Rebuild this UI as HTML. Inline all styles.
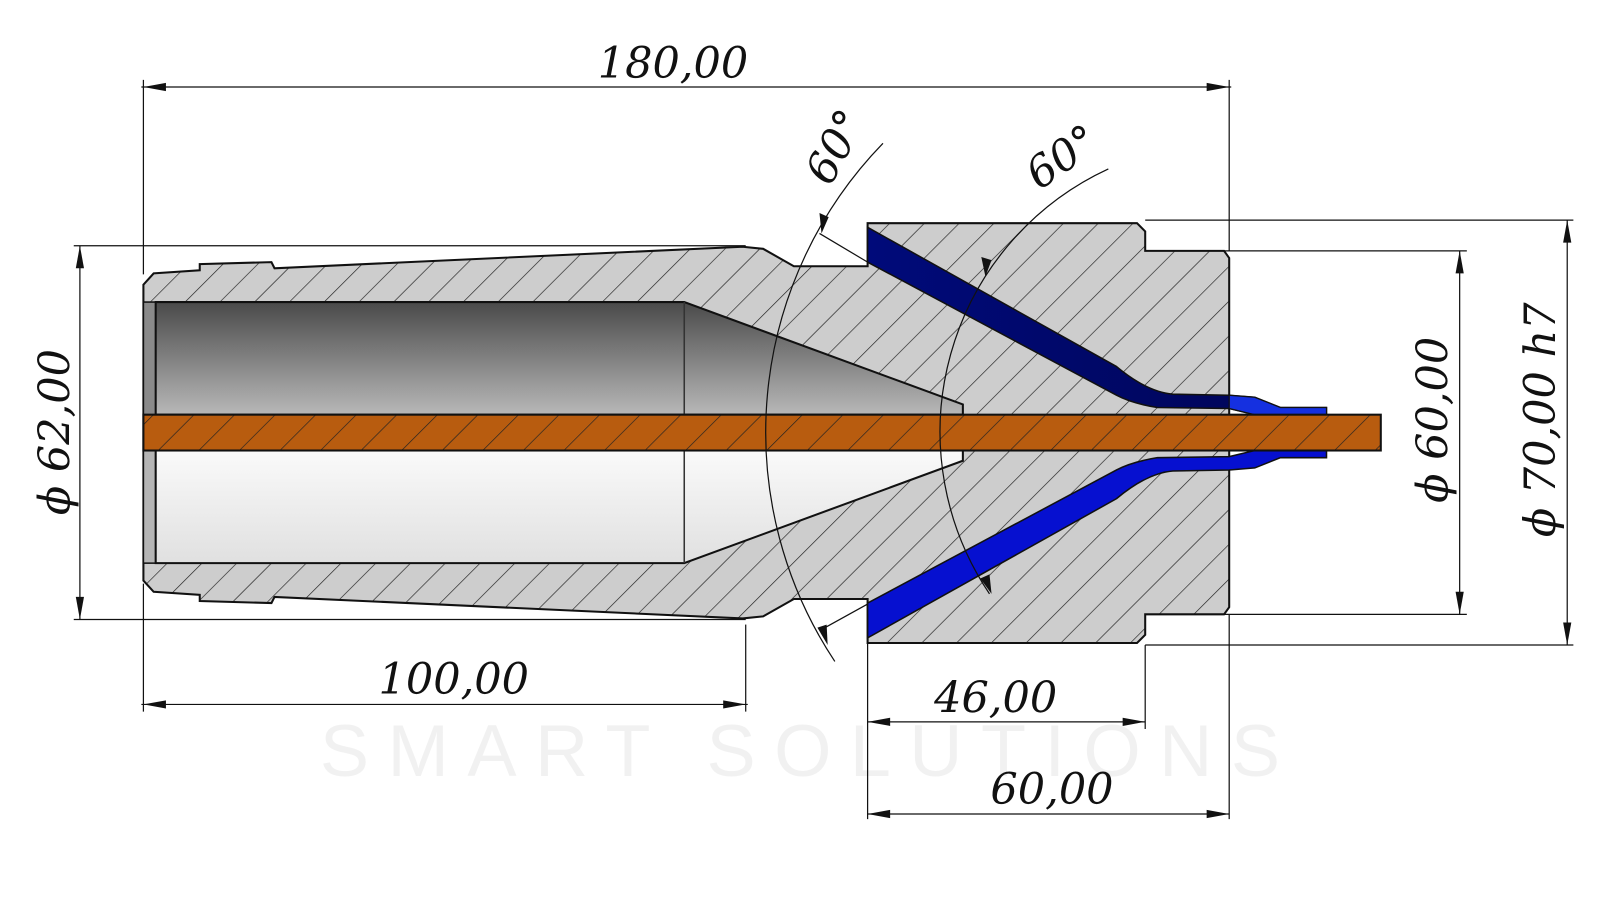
<!DOCTYPE html>
<html><head><meta charset="utf-8"><style>
html,body{margin:0;padding:0;background:#fff;}
svg{display:block;}
text{font-family:"DejaVu Serif","Liberation Serif",serif;font-style:italic;fill:#111;}
</style></head><body>
<svg width="1600" height="900" viewBox="0 0 1562 879" preserveAspectRatio="none" xmlns="http://www.w3.org/2000/svg">
<defs>
<pattern id="h" patternUnits="userSpaceOnUse" width="24" height="24" patternTransform="rotate(45)">
<rect width="24" height="24" fill="#cdcdcd"/><line x1="0" y1="0" x2="0" y2="24" stroke="#222" stroke-width="1.3"/></pattern>
<pattern id="hr" patternUnits="userSpaceOnUse" width="28" height="28" patternTransform="rotate(45)">
<rect width="28" height="28" fill="#b85c0f"/><line x1="0" y1="0" x2="0" y2="28" stroke="#222" stroke-width="1.3"/></pattern>
<linearGradient id="gt" x1="0" y1="0" x2="0" y2="1"><stop offset="0" stop-color="#4a4a4a"/><stop offset="1" stop-color="#b8b8b8"/></linearGradient>
<linearGradient id="gb" x1="0" y1="0" x2="0" y2="1"><stop offset="0" stop-color="#fafafa"/><stop offset="1" stop-color="#e0e0e0"/></linearGradient>
<linearGradient id="bu" x1="0" y1="0" x2="1" y2="0"><stop offset="0" stop-color="#000a7a"/><stop offset="1" stop-color="#000555"/></linearGradient>
</defs>

<g opacity="0.5">
<text x="790" y="758" font-size="72" text-anchor="middle" style="font-style:normal;font-family:'Liberation Sans',sans-serif;fill:#e4e4e4;letter-spacing:18px">SMART SOLUTIONS</text>
</g>

<path d="M140,278 L150,267 L195,264 L195,258 L265,256 L268,262 L725,241 L745,243 L775,260 L847,260 L847,218 L1110,218 L1118,226 L1118,245 L1195,245 L1200,252 L1200,593 L1195,600 L1118,600 L1118,620 L1110,628 L847,628 L847,585 L775,585 L745,602 L725,604 L268,583 L265,589 L195,587 L195,581 L150,578 L140,567 Z" fill="url(#h)" stroke="#111" stroke-width="2"/>

<rect x="140" y="295" width="12" height="110" fill="#8a8a8a" stroke="#111" stroke-width="1.5"/>
<rect x="140" y="440" width="12" height="110" fill="#b5b5b5" stroke="#111" stroke-width="1.5"/>
<path d="M152,295 L668,295 L940,395 L940,405 L152,405 Z" fill="url(#gt)" stroke="#111" stroke-width="2"/>
<path d="M152,440 L940,440 L940,450 L668,550 L152,550 Z" fill="url(#gb)" stroke="#111" stroke-width="2"/>
<line x1="668" y1="295" x2="668" y2="405" stroke="#333" stroke-width="1.5"/>
<line x1="668" y1="440" x2="668" y2="550" stroke="#333" stroke-width="1.5"/>

<path d="M847,222 L1090,358 Q1120,383 1145,385 L1200,386 L1225,388 L1250,398 L1295,398 L1295,405 L1225,405 L1200,399 L1130,398 Q1105,394 1090,386 L847,256 Z" fill="url(#bu)" stroke="#111" stroke-width="1.5"/>
<path d="M847,623 L1090,487 Q1120,462 1145,460 L1200,459 L1225,457 L1250,447 L1295,447 L1295,440 L1225,440 L1200,446 L1130,447 Q1105,451 1090,459 L847,589 Z" fill="#0610d0" stroke="#111" stroke-width="1.5"/>
<path d="M1200,386 L1225,388 L1250,398 L1295,398 L1295,405 L1225,405 L1200,399Z" fill="#1530e0" stroke="#111" stroke-width="1.2"/>

<rect x="140" y="405" width="1208" height="35" fill="url(#hr)" stroke="#111" stroke-width="2"/>

<g stroke="#111" stroke-width="1.2" fill="none">
<line x1="138" y1="85" x2="1202" y2="85"/>
<line x1="140" y1="78" x2="140" y2="268"/>
<line x1="1200" y1="78" x2="1200" y2="245"/>
<line x1="72" y1="240" x2="728" y2="240"/>
<line x1="72" y1="605" x2="728" y2="605"/>
<line x1="78" y1="240" x2="78" y2="605"/>
<line x1="138" y1="688" x2="730" y2="688"/>
<line x1="140" y1="570" x2="140" y2="695"/>
<line x1="728" y1="610" x2="728" y2="695"/>
<line x1="847" y1="705" x2="1118" y2="705"/>
<line x1="847" y1="600" x2="847" y2="800"/>
<line x1="1118" y1="630" x2="1118" y2="712"/>
<line x1="847" y1="795" x2="1200" y2="795"/>
<line x1="1200" y1="600" x2="1200" y2="800"/>
<line x1="1118" y1="245" x2="1432" y2="245"/>
<line x1="1118" y1="600" x2="1432" y2="600"/>
<line x1="1425" y1="245" x2="1425" y2="600"/>
<line x1="1118" y1="215" x2="1536" y2="215"/>
<line x1="1118" y1="630" x2="1536" y2="630"/>
<line x1="1530" y1="215" x2="1530" y2="630"/>
<path d="M862,140 A405,405 0 0 0 815,646"/>
<path d="M1082,165 A283,283 0 0 0 966,580"/>
<line x1="800" y1="228" x2="847" y2="256"/>
<line x1="800" y1="616" x2="847" y2="590"/>
</g>
<g fill="#111">
<path d="M140,85 l22,-4 v8z"/><path d="M1200,85 l-22,-4 v8z"/>
<path d="M78,240 l-4,22 h8z"/><path d="M78,605 l-4,-22 h8z"/>
<path d="M140,688 l22,-4 v8z"/><path d="M728,688 l-22,-4 v8z"/>
<path d="M847,705 l22,-4 v8z"/><path d="M1118,705 l-22,-4 v8z"/>
<path d="M847,795 l22,-4 v8z"/><path d="M1200,795 l-22,-4 v8z"/>
<path d="M1425,245 l-4,22 h8z"/><path d="M1425,600 l-4,-22 h8z"/>
<path d="M1530,215 l-4,22 h8z"/><path d="M1530,630 l-4,-22 h8z"/>
<path d="M802,228 l-2,-20 l9,4z"/><path d="M808,630 l-10,-17 l9,-3z"/>
<path d="M962,270 l-4,-19 l10,3z"/><path d="M968,580 l-11,-15 l9,-4z"/>
</g>

<text x="657" y="76" font-size="42" text-anchor="middle">180,00</text>
<text x="443" y="678" font-size="42" text-anchor="middle">100,00</text>
<text x="972" y="696" font-size="42" text-anchor="middle">46,00</text>
<text x="1027" y="785" font-size="42" text-anchor="middle">60,00</text>
<text transform="translate(68,422) rotate(-90)" font-size="42" text-anchor="middle">ϕ 62,00</text>
<text transform="translate(1413,410) rotate(-90)" font-size="42" text-anchor="middle">ϕ 60,00</text>
<text transform="translate(1518,410) rotate(-90)" font-size="42" text-anchor="middle">ϕ 70,00 h7</text>
<text transform="translate(828,150) rotate(-62)" font-size="42" text-anchor="middle">60°</text>
<text transform="translate(1045,165) rotate(-35)" font-size="42" text-anchor="middle">60°</text>
</svg>
</body></html>
